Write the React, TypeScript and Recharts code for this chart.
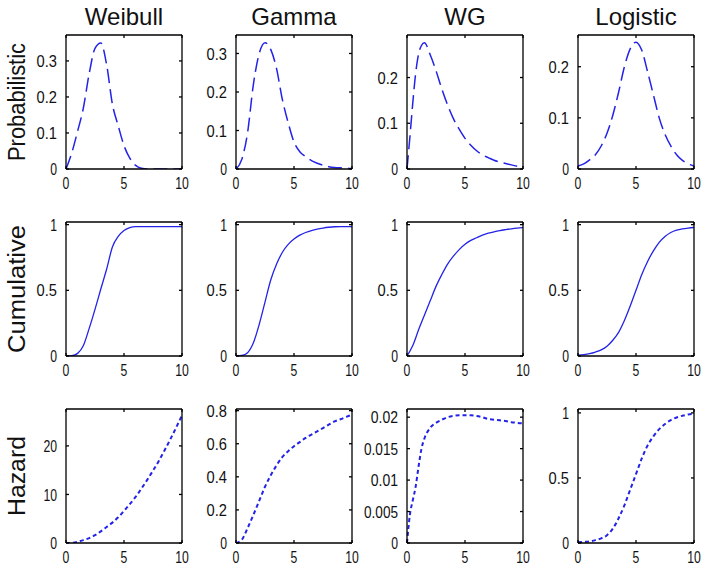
import React from "react";
import { LineChart, Line, XAxis, YAxis } from "recharts";

// x grids the curves were read at
const xHalf = [0, 0.5, 1, 1.5, 2, 2.5, 3, 3.5, 4, 4.5, 5, 5.5, 6, 6.5, 7, 7.5, 8, 8.5, 9, 9.5, 10];
const xFine = [0, 0.25, 0.5, 0.75, 1, 1.25, 1.5, 2, 2.5, 3, 3.5, 4, 4.5, 5, 5.5, 6, 6.5, 7, 7.5, 8, 8.5, 9, 9.5, 10];

// probabilistic (density)
const weibullPdf = [0, 0.045, 0.105, 0.17, 0.265, 0.335, 0.35, 0.29, 0.18, 0.12, 0.065, 0.03, 0.01, 0.002, 0, 0, 0, 0, 0, 0, 0];
const gammaPdf = [0, 0.025, 0.095, 0.22, 0.3, 0.328, 0.31, 0.26, 0.18, 0.12, 0.07, 0.045, 0.032, 0.022, 0.015, 0.01, 0.006, 0.004, 0.003, 0.002, 0.001];
const wgPdf = [0, 0.07, 0.145, 0.21, 0.252, 0.27, 0.276, 0.25, 0.215, 0.175, 0.14, 0.11, 0.087, 0.067, 0.052, 0.04, 0.031, 0.025, 0.019, 0.015, 0.012, 0.009, 0.006, 0.004];
const logisticPdf = [0.006, 0.01, 0.018, 0.028, 0.045, 0.07, 0.105, 0.15, 0.2, 0.235, 0.248, 0.232, 0.19, 0.145, 0.1, 0.068, 0.045, 0.028, 0.017, 0.01, 0.006];

// cumulative
const weibullCdf = [0, 0.002, 0.02, 0.08, 0.21, 0.355, 0.51, 0.66, 0.83, 0.91, 0.955, 0.978, 0.985, 0.985, 0.985, 0.985, 0.985, 0.985, 0.985, 0.985, 0.985];
const gammaCdf = [0, 0.004, 0.025, 0.1, 0.24, 0.41, 0.58, 0.7, 0.79, 0.85, 0.89, 0.92, 0.94, 0.955, 0.966, 0.974, 0.98, 0.984, 0.985, 0.985, 0.985];
const wgCdf = [0, 0.08, 0.2, 0.31, 0.42, 0.53, 0.62, 0.7, 0.76, 0.81, 0.85, 0.88, 0.9, 0.92, 0.935, 0.945, 0.955, 0.962, 0.968, 0.973, 0.977];
const logisticCdf = [0.007, 0.011, 0.018, 0.03, 0.047, 0.075, 0.12, 0.18, 0.27, 0.38, 0.5, 0.62, 0.72, 0.8, 0.865, 0.91, 0.94, 0.958, 0.968, 0.974, 0.978];

// hazard
const weibullHaz = [0, 0.05, 0.25, 0.6, 1.0, 1.6, 2.4, 3.3, 4.2, 5.3, 6.6, 8.0, 9.5, 11.2, 13.0, 14.9, 16.9, 19.1, 21.4, 23.8, 26.3];
const gammaHaz = [0, 0.02, 0.09, 0.17, 0.255, 0.34, 0.41, 0.47, 0.52, 0.555, 0.585, 0.61, 0.635, 0.655, 0.675, 0.695, 0.715, 0.735, 0.748, 0.762, 0.776];
const wgHaz = [0, 0.0045, 0.0068, 0.009, 0.0122, 0.015, 0.0166, 0.0183, 0.0191, 0.0196, 0.02, 0.0202, 0.0203, 0.0203, 0.0203, 0.0202, 0.02, 0.0197, 0.0196, 0.0195, 0.0194, 0.0192, 0.0191, 0.019];
const logisticHaz = [0.005, 0.008, 0.013, 0.022, 0.036, 0.06, 0.11, 0.19, 0.29, 0.41, 0.53, 0.65, 0.75, 0.82, 0.875, 0.915, 0.945, 0.965, 0.978, 0.988, 0.995];

const titles = ["Weibull", "Gamma", "WG", "Logistic"];
const rowLabels = ["Probabilistic", "Cumulative", "Hazard"];

const xTicks = [0, 5, 10];
const pdfTicks = [[0, 0.1, 0.2, 0.3], [0, 0.1, 0.2, 0.3], [0, 0.1, 0.2], [0, 0.1, 0.2]];
const cdfTicks = [0, 0.5, 1];
const hazTicks = [[0, 10, 20], [0, 0.2, 0.4, 0.6, 0.8], [0, 0.005, 0.01, 0.015, 0.02], [0, 0.5, 1]];

const pdfMax = [0.372, 0.348, 0.293, 0.262];
const cdfMax = [1.02, 1.02, 1.02, 1.02];
const hazMax = [27.6, 0.81, 0.0213, 1.03];

const colLefts = [66, 236, 407, 578];
const rowTops = [35, 222, 409];
const boxW = 116;
const boxH = 134;
const RIGHT_PAD = 14;

const BLUE = "#2323e8";
const lineStyles = [
  { dash: "14 6", width: 1.5 },
  { dash: undefined, width: 1.3 },
  { dash: "4 3", width: 2 },
];

const FONT = "'Liberation Sans', Arial, sans-serif";
const CHAR_W = 6.8;

const fmt = (v: number) => String(Math.round(v * 10000) / 10000);

const YTick = (props: any) => {
  const { x, y, payload } = props;
  const s = fmt(payload.value);
  return (
    <text x={x} y={y} dy="0.36em" textAnchor="end" fontSize={17} fontFamily={FONT} fill="#111"
      textLength={s.length * CHAR_W} lengthAdjust="spacingAndGlyphs">
      {s}
    </text>
  );
};

const XTick = (props: any) => {
  const { x, y, payload } = props;
  const s = fmt(payload.value);
  return (
    <text x={x} y={y} dy="0.72em" textAnchor="middle" fontSize={17} fontFamily={FONT} fill="#111"
      textLength={s.length * CHAR_W} lengthAdjust="spacingAndGlyphs">
      {s}
    </text>
  );
};

const noTick = () => <g />;
const axisStroke = { stroke: "#000", strokeWidth: 1.3 };

function Panel({ xs, ys, yMax, yTicks, row, left, top }: any) {
  const data = xs.map((x: number, i: number) => ({ x, y: ys[i] }));
  const st = lineStyles[row];
  return (
    <div style={{ position: "absolute", left: left - 62, top: top - 6 }}>
      <LineChart width={62 + boxW + RIGHT_PAD} height={6 + boxH + 30} data={data}
        margin={{ top: 6, right: RIGHT_PAD, left: 2, bottom: 0 }}>
        <XAxis xAxisId="b" dataKey="x" type="number" domain={[0, 10]} ticks={xTicks} interval={0}
          height={30} tickSize={-3} tickMargin={11} tick={<XTick />} axisLine={axisStroke} tickLine={axisStroke} />
        <XAxis xAxisId="t" orientation="top" dataKey="x" type="number" domain={[0, 10]} ticks={xTicks}
          interval={0} mirror tickSize={3} tick={noTick} axisLine={axisStroke} tickLine={axisStroke} />
        <YAxis yAxisId="l" type="number" domain={[0, yMax]} ticks={yTicks} interval={0} allowDataOverflow
          width={60} tickSize={-3} tickMargin={12} tick={<YTick />} axisLine={axisStroke} tickLine={axisStroke} />
        <YAxis yAxisId="r" orientation="right" type="number" domain={[0, yMax]} ticks={yTicks} interval={0}
          allowDataOverflow mirror tickSize={3} tick={noTick} axisLine={axisStroke} tickLine={axisStroke} />
        <Line xAxisId="b" yAxisId="l" dataKey="y" type="monotone" stroke={BLUE} strokeWidth={st.width}
          strokeDasharray={st.dash} dot={false} activeDot={false} isAnimationActive={false} />
      </LineChart>
    </div>
  );
}

export default function App() {
  const rows = [
    { ys: [weibullPdf, gammaPdf, wgPdf, logisticPdf], max: pdfMax, ticks: pdfTicks },
    { ys: [weibullCdf, gammaCdf, wgCdf, logisticCdf], max: cdfMax, ticks: [cdfTicks, cdfTicks, cdfTicks, cdfTicks] },
    { ys: [weibullHaz, gammaHaz, wgHaz, logisticHaz], max: hazMax, ticks: hazTicks },
  ];
  const labelLens = [118, 128, 80];
  return (
    <div style={{ position: "absolute", left: 0, top: 0, width: 706, height: 568, background: "#fff" }}>
      <svg width={706} height={568} style={{ position: "absolute", left: 0, top: 0 }}>
        {titles.map((t, c) => (
          <text key={t} x={colLefts[c] + boxW / 2} y={25} textAnchor="middle" fontSize={24} fontFamily={FONT} fill="#111">
            {t}
          </text>
        ))}
        {rowLabels.map((t, r) => {
          const cy = rowTops[r] + boxH / 2;
          return (
            <text key={t} x={25} y={cy} transform={`rotate(-90 25 ${cy})`} textAnchor="middle" fontSize={23}
              fontFamily={FONT} fill="#111" textLength={labelLens[r]} lengthAdjust="spacingAndGlyphs">
              {t}
            </text>
          );
        })}
      </svg>
      {rows.map((row, r) =>
        titles.map((_, c) => (
          <Panel key={`${r}-${c}`} xs={c === 2 && r !== 1 ? xFine : xHalf} ys={row.ys[c]} yMax={row.max[c]}
            yTicks={row.ticks[c]} row={r} left={colLefts[c]} top={rowTops[r]} />
        ))
      )}
    </div>
  );
}
